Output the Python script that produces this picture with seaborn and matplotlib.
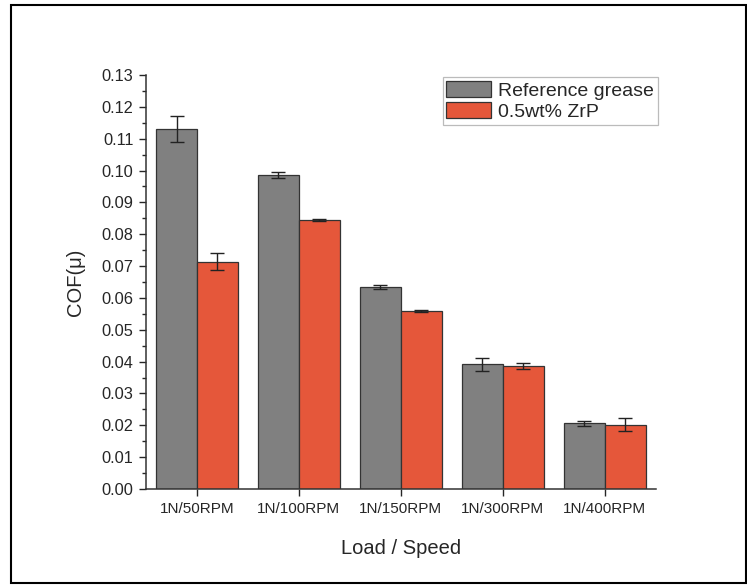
import pandas as pd
import seaborn as sns
import matplotlib.pyplot as plt
from matplotlib.patches import Rectangle
from matplotlib.ticker import MultipleLocator

# values
conditions = ["1N/50RPM", "1N/100RPM", "1N/150RPM", "1N/300RPM", "1N/400RPM"]
series = ["Reference grease", "0.5wt% ZrP"]
ref_cof = [0.1130, 0.0986, 0.0634, 0.0392, 0.0206]
ref_err = [0.0040, 0.0010, 0.0006, 0.0020, 0.0009]
zrp_cof = [0.0714, 0.0845, 0.0559, 0.0386, 0.0202]
zrp_err = [0.0027, 0.0002, 0.0004, 0.0010, 0.0020]

colors = ["#808080", "#E5573A"]

sns.set_style("ticks")
plt.rcParams["font.family"] = ["Liberation Sans", "DejaVu Sans"]

df = pd.DataFrame({
    "Load / Speed": conditions * 2,
    "COF": ref_cof + zrp_cof,
    "err": ref_err + zrp_err,
    "Sample": [series[0]] * len(conditions) + [series[1]] * len(conditions),
})

fig = plt.figure(figsize=(7.47, 5.85), dpi=100)
ax = fig.add_axes([0.1954, 0.1641, 0.6824, 0.7077])

sns.barplot(data=df, x="Load / Speed", y="COF", hue="Sample", palette=colors,
            errorbar=None, width=0.8, edgecolor="#333333", linewidth=0.9,
            saturation=1, ax=ax)

# error bars on top of each bar
errs = [ref_err, zrp_err]
vals = [ref_cof, zrp_cof]
bar_groups = list(ax.containers)
for k, cont in enumerate(bar_groups):
    for i, bar in enumerate(cont):
        xc = bar.get_x() + bar.get_width() / 2
        ax.errorbar(xc, vals[k][i], yerr=errs[k][i], fmt="none",
                    ecolor="#222222", elinewidth=1.0, capsize=5, capthick=1.0)

ax.set_xlim(-0.5, 4.5)
ax.set_ylim(0, 0.13)
ax.yaxis.set_major_locator(MultipleLocator(0.01))
ax.yaxis.set_minor_locator(MultipleLocator(0.005))
ax.yaxis.set_major_formatter(plt.FormatStrFormatter("%.2f"))
ax.tick_params(axis="both", which="major", length=5, width=1,
               direction="out", pad=4)
ax.tick_params(axis="x", labelsize=11)
ax.tick_params(axis="y", labelsize=11.8)
ax.tick_params(axis="y", which="minor", length=3, width=1, direction="out")
ax.set_xlabel("Load / Speed", fontsize=14.5, labelpad=17)
ax.set_ylabel("COF(μ)", fontsize=14.5, labelpad=12)
sns.despine(ax=ax)
for s in ["left", "bottom"]:
    ax.spines[s].set_linewidth(1.1)
    ax.spines[s].set_color("#333333")

leg = ax.legend(loc="upper right", bbox_to_anchor=(1.004, 0.996), fontsize=14,
                frameon=True, fancybox=False, handlelength=2.3, handleheight=0.95,
                handletextpad=0.35, borderpad=0.2, labelspacing=0.1,
                borderaxespad=0)
leg.get_frame().set_edgecolor("#AAAAAA")
leg.get_frame().set_linewidth(0.9)

# outer frame around the figure
fig.patches.append(Rectangle((11 / 747, 2 / 585), 735 / 747, 578 / 585,
                             transform=fig.transFigure, fill=False,
                             edgecolor="black", linewidth=1.5))

fig.savefig("out.png", dpi=100)
